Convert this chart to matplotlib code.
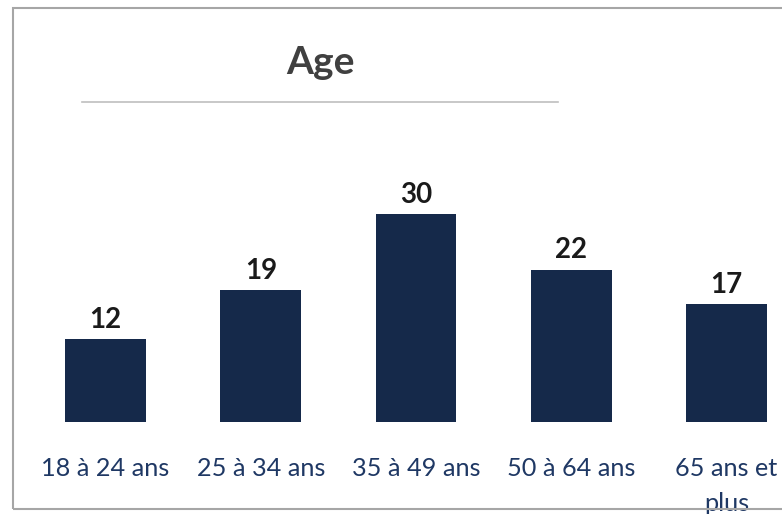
import matplotlib
matplotlib.use('Agg')
import matplotlib.pyplot as plt
from matplotlib.patches import Rectangle
from matplotlib.lines import Line2D

categories = ['18 à 24 ans', '25 à 34 ans', '35 à 49 ans', '50 à 64 ans', '65 ans et\nplus']
values = [12, 19, 30, 22, 17]

plt.rcParams['font.family'] = ['Lato', 'DejaVu Sans']

W, H = 782, 514
fig = plt.figure(figsize=(W / 100, H / 100), dpi=100)

# plot area in pixel terms (right side runs past the picture edge)
left_px, right_px = 28, 804
bottom_px, top_px = 422, 422 - 6.93 * 35
ax = fig.add_axes([left_px / W, 1 - bottom_px / H,
                   (right_px - left_px) / W, (bottom_px - top_px) / H])

x = range(len(categories))
ax.bar(x, values, width=0.52, color='#15294A')
ax.set_xlim(-0.5, 4.5)
ax.set_ylim(0, 35)

for xi, v in zip(x, values):
    ax.annotate(str(v), (xi, v), xytext=(0, 4.5), textcoords='offset points',
                ha='center', va='bottom', fontsize=20, fontweight='bold',
                color='#1A1A1A')

ax.set_xticks(list(x))
ax.set_xticklabels(categories, fontsize=18.2, color='#1F3864', linespacing=1.65)
ax.tick_params(axis='x', length=0, pad=25)
ax.set_yticks([])
for s in ax.spines.values():
    s.set_visible(False)

# title and the rule under it
fig.text(320 / W, 1 - 62 / H, 'Age', ha='center', va='center',
         fontsize=28, fontweight='bold', color='#404040')
fig.add_artist(Line2D([82 / W, 558 / W], [1 - 102 / H, 1 - 102 / H],
                      color='#BFBFBF', linewidth=1.2))

# outer frame
fig.add_artist(Rectangle((13 / W, 1 - 509 / H), 1.2, (509 - 8) / H,
                         fill=False, edgecolor='#A6A6A6', linewidth=1.5,
                         zorder=10))

fig.savefig('out.png', dpi=100)
